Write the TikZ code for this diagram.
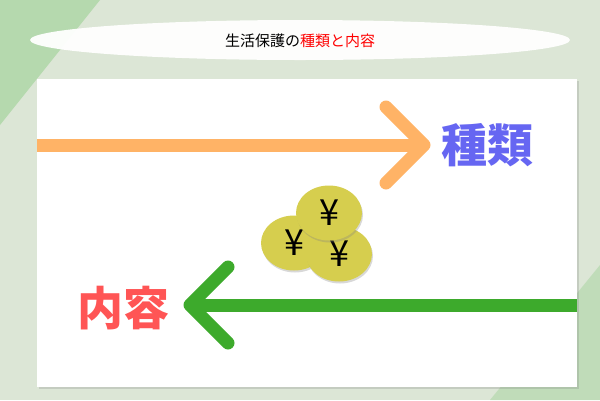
\documentclass[tikz,border=0pt]{standalone}
\usepackage{fontspec}
\setmainfont{Noto Sans CJK JP}
\usetikzlibrary{shadows,shapes.geometric}
\definecolor{bg}{HTML}{DCE6D6}
\definecolor{tri}{HTML}{B5D9AE}
\definecolor{orng}{HTML}{FFB366}
\definecolor{grn}{HTML}{3DAA2C}
\definecolor{blu}{HTML}{6666F2}
\definecolor{rd}{HTML}{FF5555}
\definecolor{coin}{HTML}{D6CE4E}
\begin{document}
\begin{tikzpicture}[x=1pt,y=-1pt,
  arr/.style={line width=13pt,line cap=round,line join=round},
  shaft/.style={line width=13pt},
  coinst/.style={ellipse,fill=coin,minimum width=66pt,minimum height=55pt,inner sep=0pt,font=\fontsize{36}{36}\selectfont,drop shadow={shadow xshift=1pt,shadow yshift=-2pt,opacity=0.3}},
  big/.style={font=\fontsize{46}{46}\selectfont\bfseries}]
\useasboundingbox (0,0) rectangle (600,400);
\fill[bg] (0,0) rectangle (600,400);
\fill[tri] (0,0) -- (100,0) -- (0,125) -- cycle;
\fill[tri,opacity=0.7] (600,265) -- (600,400) -- (490,400) -- cycle;
\fill[white,opacity=0.95] (300,40) ellipse [x radius=270, y radius=20];
\node (title) at (300,41) {\fontsize{15}{15}\selectfont 生活保護の\textcolor{red}{種類と内容}};
\node[fill=white,minimum width=540pt,minimum height=308pt,inner sep=0pt,drop shadow={shadow xshift=2pt,shadow yshift=-2pt,opacity=0.25}] (panel) at (307,233) {};
\coordinate (oa) at (37,145);
\coordinate (ob) at (424,145);
\draw[shaft,orng] (oa) -- (ob);
\draw[arr,orng] (386,107) -- (ob) -- (386,183);
\node[big,text=blu] (shurui) at (487,145) {種類};
\coordinate (ga) at (577,305);
\coordinate (gb) at (190,305);
\draw[shaft,grn] (ga) -- (gb);
\draw[arr,grn] (228,267) -- (gb) -- (228,343);
\node[big,text=rd] (naiyo) at (123,308) {内容};
\node[coinst] (c1) at (294,243) {¥};
\node[coinst] (c2) at (339,254) {¥};
\node[coinst] (c3) at (329,213) {¥};
\end{tikzpicture}
\end{document}
